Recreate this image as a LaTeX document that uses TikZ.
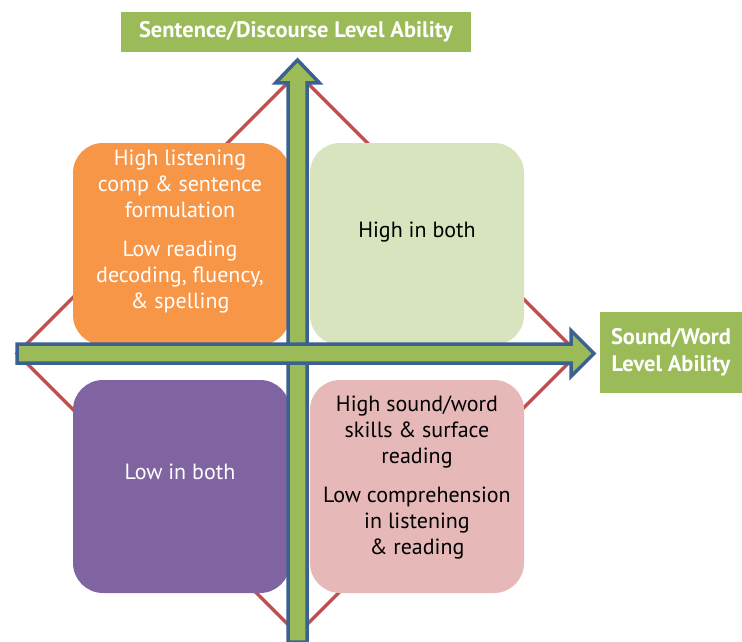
\documentclass[tikz,border=0pt]{standalone}
\usepackage{fontspec}
\setmainfont{PT Sans}
\definecolor{axgreen}{HTML}{9BBB59}
\definecolor{axblue}{HTML}{3B6191}
\definecolor{diagred}{HTML}{C0504D}
\definecolor{qorange}{HTML}{F79646}
\definecolor{qlgreen}{HTML}{D7E4BD}
\definecolor{qpurple}{HTML}{8064A2}
\definecolor{qpink}{HTML}{E6B9B8}
\begin{document}
\begin{tikzpicture}[x=1pt,y=-1pt,
  diag/.style={draw=diagred, line width=3.5pt},
  quad/.style={rounded corners=30pt, draw=none},
  qtext/.style={align=center, font=\fontsize{22}{26}\selectfont, inner sep=0pt},
  axarrow/.style={draw=axblue, fill=axgreen, line width=3.5pt, line join=miter},
  axlabel/.style={fill=axgreen, text=white, align=center, inner sep=0pt, font=\fontsize{22.5}{27}\selectfont\bfseries}]
\useasboundingbox (0,0) rectangle (742,642);
\clip (0,0) rectangle (742,642);
\fill[white] (0,0) rectangle (742,642);
% diamond
\coordinate (dT) at (297.5,73);
\coordinate (dR) at (578,353.5);
\coordinate (dB) at (297.5,634);
\coordinate (dL) at (17,353.5);
\draw[diag] (dT) -- (dR) -- (dB) -- (dL) -- cycle;
% quadrant boxes
\fill[quad, qorange] (73,143) rectangle (290,345);
\fill[quad, qlgreen] (310,143) rectangle (524,345);
\fill[quad, qpurple] (73,380) rectangle (290,593);
\fill[quad, qpink] (310,380) rectangle (524,593);
\node[qtext, text=white] (ultext) at (180,232) {High listening\\comp \& sentence\\formulation\\[13pt]Low reading\\decoding, fluency,\\\& spelling};
\node[qtext, text=black] (urtext) at (417,232) {High in both};
\node[qtext, text=white] (lltext) at (180,472) {Low in both};
\node[qtext, text=black] (lrtext) at (417,477) {High sound/word\\skills \& surface\\reading\\[13pt]Low comprehension\\in listening\\\& reading};
% vertical arrow
\draw[axarrow] (288,642) -- (288,83) -- (275.5,83) -- (297.5,60) -- (319.5,83) -- (307,83) -- (307,642) -- cycle;
% horizontal arrow
\draw[axarrow] (17,344) -- (571,344) -- (571,330.5) -- (594,353.5) -- (571,376.5) -- (571,363) -- (17,363) -- cycle;
% axis labels
\node[axlabel, minimum width=350pt, minimum height=40pt] (ylab) at (296,32) {Sentence/Discourse Level Ability};
\node[axlabel, minimum width=142pt, minimum height=81pt] (xlab) at (671,352.5) {Sound/Word\\Level Ability};
\end{tikzpicture}
\end{document}
